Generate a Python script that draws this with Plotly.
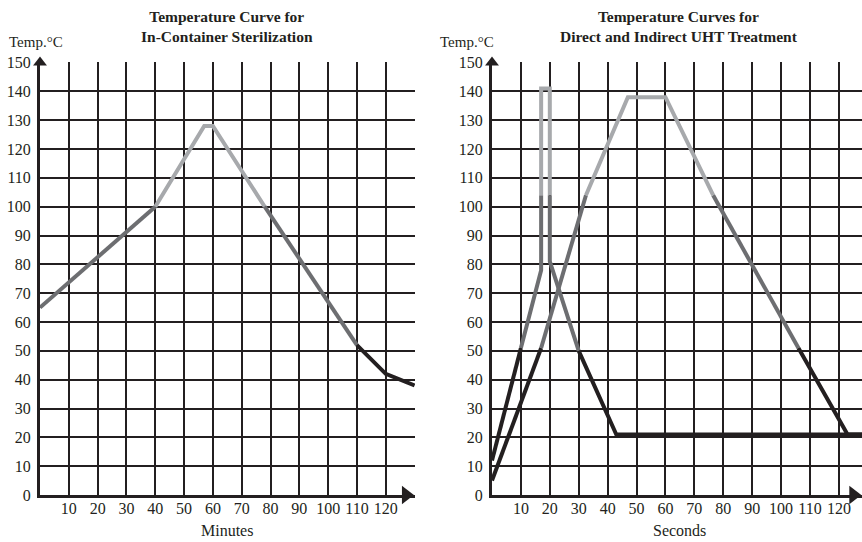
import plotly.graph_objects as go

# ---------------- data ----------------
# In-container sterilization (minutes)
ics_x = [0, 40, 57, 60, 78, 110, 120, 130]
ics_y = [65, 100, 128, 128, 100, 52, 42, 38]
ics_shade = ["dark", "light", "light", "light", "dark", "black", "black"]

# Direct UHT (seconds)
direct_x = [0, 10, 17, 17, 17, 20, 20, 20, 30, 43, 128]
direct_y = [12, 51, 78, 104, 141, 141, 104, 81, 50, 21, 21]
direct_shade = ["black", "dark", "dark", "light", "light", "light", "dark", "dark", "black", "black"]

# Indirect UHT (seconds)
indirect_x = [0, 17, 32.5, 47, 60, 76.5, 106, 123, 128]
indirect_y = [5, 51, 104, 138, 138, 104, 51, 21, 21]
indirect_shade = ["black", "dark", "light", "light", "light", "dark", "black", "black"]

y_ticks = list(range(0, 151, 10))
x_ticks_left = list(range(0, 131, 10))
x_ticks_right = list(range(0, 121, 10))

COLORS = {"black": "#231f20", "dark": "#6d6e71", "light": "#a7a9ac"}
INK = "#231f20"
FONT = "Liberation Serif"

fig = go.Figure()


def add_curve(xs, ys, shades, xa, ya):
    # group consecutive segments of the same shade into one trace
    start = 0
    n = len(shades)
    while start < n:
        end = start
        while end + 1 < n and shades[end + 1] == shades[start]:
            end += 1
        fig.add_trace(go.Scatter(
            x=xs[start:end + 2], y=ys[start:end + 2], mode="lines",
            line=dict(color=COLORS[shades[start]], width=4),
            xaxis=xa, yaxis=ya, showlegend=False, hoverinfo="skip",
            cliponaxis=False,
        ))
        start = end + 1


add_curve(ics_x, ics_y, ics_shade, "x", "y")
add_curve(indirect_x, indirect_y, indirect_shade, "x2", "y2")
add_curve(direct_x, direct_y, direct_shade, "x2", "y2")

# axis arrowheads
for xa, ya, xmax in (("x", "y", 130), ("x2", "y2", 128)):
    fig.add_trace(go.Scatter(x=[0], y=[150], mode="markers",
                             marker=dict(symbol="triangle-up", size=12, color=INK),
                             xaxis=xa, yaxis=ya, showlegend=False, hoverinfo="skip",
                             cliponaxis=False))
    fig.add_trace(go.Scatter(x=[xmax - 3], y=[0], mode="markers",
                             marker=dict(symbol="triangle-right", size=16, color=INK),
                             xaxis=xa, yaxis=ya, showlegend=False, hoverinfo="skip",
                             cliponaxis=False))

W, H = 862, 542
T, B = 62, 47

common_y = dict(range=[0, 150.2], tickvals=y_ticks, showgrid=True, gridcolor=INK, gridwidth=1.6,
                showline=True, linecolor=INK, linewidth=3, zeroline=False, ticks="",
                tickfont=dict(family=FONT, size=16, color=INK), automargin=False,
                ticklabelstandoff=3, fixedrange=True)
common_x = dict(showgrid=True, gridcolor=INK, gridwidth=1.6, showline=True, linecolor=INK,
                linewidth=3, zeroline=False, ticks="",
                tickfont=dict(family=FONT, size=16, color=INK), automargin=False,
                ticklabelstandoff=-3, fixedrange=True)

fig.update_layout(
    width=W, height=H,
    margin=dict(l=0, r=0, t=T, b=B),
    paper_bgcolor="white", plot_bgcolor="white",
    xaxis=dict(domain=[40 / W, 415 / W], range=[0, 130.15], anchor="y",
               tickvals=x_ticks_left,
               ticktext=["" if v in (0, 130) else str(v) for v in x_ticks_left], **common_x),
    yaxis=dict(domain=[0, 1], anchor="x", **common_y),
    xaxis2=dict(domain=[492 / W, 1.0], range=[0, 128], anchor="y2",
                tickvals=x_ticks_right,
                ticktext=["" if v == 0 else str(v) for v in x_ticks_right], **common_x),
    yaxis2=dict(domain=[0, 1], anchor="x2", **common_y),
)

PH = H - T - B


def py(p):
    return (H - B - p) / PH


anns = [
    dict(text="<b>Temperature Curve for<br>In-Container Sterilization</b>", x=227 / W, y=py(27),
         size=15.5),
    dict(text="<b>Temperature Curves for<br>Direct and Indirect UHT Treatment</b>", x=679 / W,
         y=py(27), size=15.5),
    dict(text="Temp.°C", x=36 / W, y=py(42), size=15),
    dict(text="Temp.°C", x=467 / W, y=py(42), size=15),
    dict(text="Minutes", x=227 / W, y=py(530), size=16),
    dict(text="Seconds", x=679 / W, y=py(530), size=16),
]
for a in anns:
    fig.add_annotation(text=a["text"], x=a["x"], y=a["y"], xref="paper", yref="paper",
                       xanchor="center", yanchor="middle", showarrow=False,
                       font=dict(family=FONT, size=a["size"], color=INK))

fig.write_html("out.html")
